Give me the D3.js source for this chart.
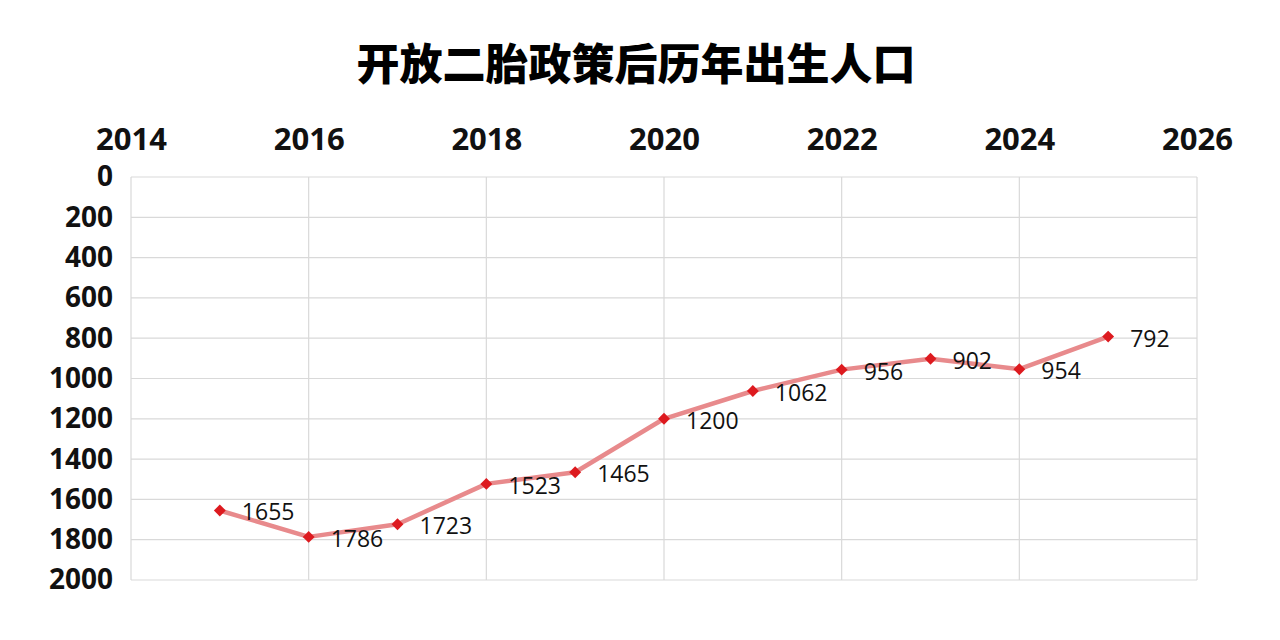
<!DOCTYPE html>
<html>
<head>
<meta charset="utf-8">
<script src="https://cdn.jsdelivr.net/npm/d3@7"></script>
<style>
  body { margin: 0; background: #fff; }
  svg text { font-family: "Open Sans", "Noto Sans", sans-serif; }
</style>
</head>
<body>
<svg id="chart" width="1280" height="640"></svg>
<script>
// years and births (万人)
const years = [2015, 2016, 2017, 2018, 2019, 2020, 2021, 2022, 2023, 2024, 2025];
const births = [1655, 1786, 1723, 1523, 1465, 1200, 1062, 956, 902, 954, 792];
const xTicks = [2014, 2016, 2018, 2020, 2022, 2024, 2026];
const yTicks = [0, 200, 400, 600, 800, 1000, 1200, 1400, 1600, 1800, 2000];

const svg = d3.select('#chart');
const plotLeft = 131, plotRight = 1197, plotTop = 177, plotBottom = 580;

// title
svg.append('text')
    .attr('x', 636).attr('y', 80)
    .attr('text-anchor', 'middle')
    .style('font-family', '"Noto Sans CJK SC", sans-serif')
    .style('font-weight', '900')
    .style('font-size', '43px')
    .text('开放二胎政策后历年出生人口');

let x = d3.scaleLinear().domain([2014, 2026]).range([plotLeft, plotRight]);
// y axis is reversed: 0 on top
let y = d3.scaleLinear().domain([0, 2000]).range([plotTop, plotBottom]);

// grid
svg.append('g').selectAll('line')
    .data(yTicks).join('line')
    .attr('x1', plotLeft).attr('x2', plotRight)
    .attr('y1', d => y(d)).attr('y2', d => y(d))
    .attr('stroke', '#d9d9d9').attr('stroke-width', 1.2);

svg.append('g').selectAll('line')
    .data(xTicks).join('line')
    .attr('x1', d => x(d)).attr('x2', d => x(d))
    .attr('y1', plotTop).attr('y2', plotBottom)
    .attr('stroke', '#d9d9d9').attr('stroke-width', 1.2);

// top axis labels
let xAxis = d3.axisTop(x).tickValues(xTicks).tickFormat(d3.format('d')).tickSize(0).tickPadding(0);
let gx = svg.append('g').attr('transform', `translate(0,${plotTop - 27})`).call(xAxis);
gx.attr('font-family', null);
gx.select('.domain').remove();
gx.selectAll('text')
    .style('font-size', '31px').style('font-weight', 'bold').attr('fill', '#111');

// left axis labels
let yAxis = d3.axisLeft(y).tickValues(yTicks).tickFormat(d3.format('d')).tickSize(0).tickPadding(0);
let gy = svg.append('g').attr('transform', `translate(${plotLeft - 18},0)`).call(yAxis);
gy.attr('font-family', null);
gy.select('.domain').remove();
gy.selectAll('text')
    .style('font-size', '28px').style('font-weight', 'bold').attr('fill', '#111');

// line
let line = d3.line().x((d, i) => x(years[i])).y(d => y(d));
svg.append('path')
    .datum(births)
    .attr('d', line)
    .attr('fill', 'none')
    .attr('stroke', '#e88a8c')
    .attr('stroke-width', 4.5)
    .attr('stroke-linejoin', 'round');

// diamond markers
svg.append('g').selectAll('path')
    .data(births).join('path')
    .attr('d', d3.symbol(d3.symbolDiamond2, 90))
    .attr('transform', (d, i) => `translate(${x(years[i])},${y(d)})`)
    .attr('fill', '#dd1a1f');

// value labels
svg.append('g').selectAll('text')
    .data(births).join('text')
    .attr('x', (d, i) => x(years[i]) + 22)
    .attr('y', d => y(d) + 10)
    .style('font-size', '23px')
    .attr('fill', '#111')
    .text(d => d);
</script>
</body>
</html>
